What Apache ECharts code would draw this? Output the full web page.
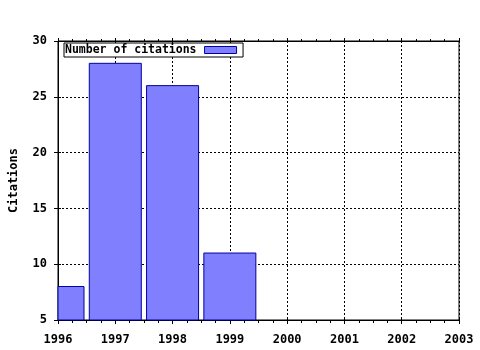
<!DOCTYPE html>
<html><head><meta charset="utf-8">
<script src="https://cdn.jsdelivr.net/npm/echarts@6/dist/echarts.min.js"></script>
<style>html,body{margin:0;padding:0;background:#fff}#c{width:480px;height:350px}</style>
</head><body><div id="c"></div>
<script>
const years = [1996, 1997, 1998, 1999];
const citations = [8, 28, 26, 11];
const seriesName = 'Number of citations';
const yTitle = 'Citations';
const xMin = 1996, xMax = 2003;
const yMin = 5, yMax = 30;

const barColor = '#8080ff', barBorder = '#0000a0';
const font = {fontFamily: 'DejaVu Sans Mono', fontWeight: 'bold', fontSize: 12, color: '#000'};
const chart = echarts.init(document.getElementById('c'), null, {renderer: 'canvas'});
chart.setOption({
  animation: false,
  grid: {left: 57, right: 21, top: 41, bottom: 30, show: true, borderColor: '#000', borderWidth: 1, backgroundColor: '#fff'},
  legend: {
    left: 64, top: 43, align: 'right',
    data: [{name: seriesName, icon: 'rect', itemStyle: {color: barColor, borderColor: barBorder, borderWidth: 1}}],
    backgroundColor: '#fff', borderColor: '#000', borderWidth: 1,
    padding: [1, 6, 1, 1], itemWidth: 32, itemHeight: 7, itemGap: 0,
    textStyle: Object.assign({}, font, {fontSize: 11.5, padding: [0, 3, 0, 0]})
  },
  xAxis: [
    {type: 'value', min: xMin, max: xMax, interval: 1, position: 'bottom',
     axisLine: {show: true, onZero: false, lineStyle: {color: '#000', width: 1}},
     axisTick: {show: true, length: 4, lineStyle: {color: '#000'}},
     minorTick: {show: true, splitNumber: 4, length: 3, lineStyle: {color: '#000'}},
     axisLabel: Object.assign({}, font, {margin: 14, formatter: v => String(v)}),
     splitLine: {show: true, lineStyle: {color: '#000', type: [2, 2], width: 1}}},
    {type: 'value', min: xMin, max: xMax, interval: 1, position: 'bottom',
     axisLine: {show: false, onZero: false},
     axisTick: {show: true, inside: true, length: 3, lineStyle: {color: '#000'}},
     axisLabel: {show: false}, splitLine: {show: false}},
    {type: 'value', min: xMin, max: xMax, interval: 1, position: 'top',
     axisLine: {show: true, onZero: false, lineStyle: {color: '#000'}},
     axisTick: {show: true, length: 3, lineStyle: {color: '#000'}},
     minorTick: {show: true, splitNumber: 4, length: 2, lineStyle: {color: '#000'}},
     axisLabel: {show: false}, splitLine: {show: false}}
  ],
  yAxis: [
    {type: 'value', min: yMin, max: yMax, interval: 5,
     name: yTitle, nameLocation: 'middle', nameGap: 38, nameRotate: 90,
     nameTextStyle: font,
     axisLine: {show: true, onZero: false, lineStyle: {color: '#000'}},
     axisTick: {show: true, length: 4, lineStyle: {color: '#000'}},
     axisLabel: Object.assign({}, font, {margin: 11}),
     splitLine: {show: true, lineStyle: {color: '#000', type: [2, 2], width: 1}}},
    {type: 'value', min: yMin, max: yMax, interval: 5, position: 'left',
     axisLine: {show: false, onZero: false},
     axisTick: {show: true, inside: true, length: 3, lineStyle: {color: '#000'}},
     axisLabel: {show: false}, splitLine: {show: false}}
  ],
  series: [{
    name: seriesName, type: 'custom', xAxisIndex: 0, yAxisIndex: 0,
    data: years.map((y, i) => [y, citations[i]]),
    encode: {x: 0, y: 1},
    itemStyle: {color: barColor, borderColor: barBorder, borderWidth: 1},
    renderItem: function (params, api) {
      const top = api.coord([api.value(0), api.value(1)]);
      const base = api.coord([api.value(0), yMin]);
      const w = 52;
      const rect = echarts.graphic.clipRectByRect(
        {x: top[0] - w / 2, y: top[1], width: w, height: base[1] - top[1]},
        {x: params.coordSys.x, y: params.coordSys.y, width: params.coordSys.width, height: params.coordSys.height}
      );
      if (!rect) return null;
      return {type: 'rect', shape: rect,
        style: {fill: barColor, stroke: barBorder, lineWidth: 1}};
    }
  }]
});
</script></body></html>
